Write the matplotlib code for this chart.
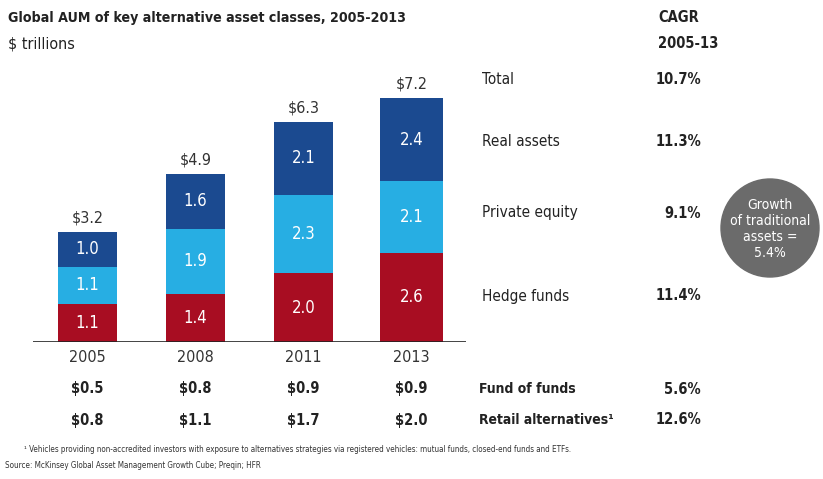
import numpy as np
import matplotlib.pyplot as plt
from matplotlib.patches import Circle

years = ["2005", "2008", "2011", "2013"]
hedge_funds = [1.1, 1.4, 2.0, 2.6]
private_equity = [1.1, 1.9, 2.3, 2.1]
real_assets = [1.0, 1.6, 2.1, 2.4]
totals = ["$3.2", "$4.9", "$6.3", "$7.2"]
fund_of_funds = ["$0.5", "$0.8", "$0.9", "$0.9"]
retail_alts = ["$0.8", "$1.1", "$1.7", "$2.0"]

row_labels = ["Total", "Real assets", "Private equity", "Hedge funds"]
row_cagr = ["10.7%", "11.3%", "9.1%", "11.4%"]
extra_labels = ["Fund of funds", "Retail alternatives\u00b9"]
extra_cagr = ["5.6%", "12.6%"]

W, H = 823, 479
plt.rcParams['font.family'] = ["DejaVu Sans"]
plt.rcParams['font.stretch'] = "condensed"

fig = plt.figure(figsize=(W / 100, H / 100), dpi=100)


def fx(px):
    return px / W


def fy(py):
    return 1 - py / H


# bar axes: baseline at y=342px, 1 unit = 34.3 px, 1 category = 108 px
ax_left, ax_right = 33, 466
ax_bottom, ax_top = 342, 60
ax = fig.add_axes([fx(ax_left), fy(ax_bottom), (ax_right - ax_left) / W, (ax_bottom - ax_top) / H])
ax.set_xlim((ax_left - 87.5) / 108, (ax_right - 87.5) / 108)
ax.set_ylim(0, (ax_bottom - ax_top) / 34.3)
ax.axis("off")
ax.axhline(0, color="#222222", lw=1.2)

x = np.arange(len(years))
widths = [0.55, 0.55, 0.55, 0.59]
red, light, dark = "#a80d22", "#27aee3", "#1b4a90"
txt = "#222222"
hf = np.array(hedge_funds)
pe = np.array(private_equity)
ra = np.array(real_assets)
ax.bar(x, hf, width=widths, color=red)
ax.bar(x, pe, bottom=hf, width=widths, color=light)
ax.bar(x, ra, bottom=hf + pe, width=widths, color=dark)

fs = 11.5
fsb = 10.5
for i in range(len(years)):
    for bottom, val in [(0, hf[i]), (hf[i], pe[i]), (hf[i] + pe[i], ra[i])]:
        ax.text(x[i], bottom + val / 2, f"{val:.1f}", ha="center", va="center",
                color="white", fontsize=fs + 0.5)
    ax.text(x[i], hf[i] + pe[i] + ra[i] + 0.2, totals[i], ha="center", va="bottom",
            color="#333333", fontsize=fs)
    ax.text(x[i], -0.45, years[i], ha="center", va="center", color="#333333", fontsize=fs)
    ax.text(x[i], -1.37, fund_of_funds[i], ha="center", va="center", color=txt,
            fontsize=fsb, fontweight="bold")
    ax.text(x[i], -2.28, retail_alts[i], ha="center", va="center", color=txt,
            fontsize=fsb, fontweight="bold")

# title block
fig.text(fx(8), fy(18), "Global AUM of key alternative asset classes, 2005-2013",
         fontsize=10.2, fontweight="bold", color=txt, va="center")
fig.text(fx(8), fy(44), "$ trillions", fontsize=fs, color=txt, va="center")
fig.text(fx(658), fy(18), "CAGR", fontsize=fsb, fontweight="bold", color=txt, va="center")
fig.text(fx(658), fy(44), "2005-13", fontsize=fsb, fontweight="bold", color=txt, va="center")

# right-hand table
row_y = [80, 141, 213, 296]
for lab, val, yy in zip(row_labels, row_cagr, row_y):
    fig.text(fx(482), fy(yy), lab, fontsize=fs - 0.5, color=txt, va="center")
    fig.text(fx(701), fy(yy), val, fontsize=fsb, fontweight="bold", color=txt,
             va="center", ha="right")

for lab, val, yy in zip(extra_labels, extra_cagr, [389, 420]):
    fig.text(fx(479), fy(yy), lab, fontsize=fsb - 0.5, fontweight="bold", color=txt, va="center")
    fig.text(fx(701), fy(yy), val, fontsize=fsb, fontweight="bold", color=txt,
             va="center", ha="right")

# grey bubble
circ_ax = fig.add_axes([0, 0, 1, 1], zorder=-1)
circ_ax.set_xlim(0, W)
circ_ax.set_ylim(H, 0)
circ_ax.axis("off")
circ_ax.add_patch(Circle((770, 228), 49, color="#6b6b6b"))
circ_ax.text(770, 229, "Growth\nof traditional\nassets =\n5.4%", ha="center", va="center",
             color="white", fontsize=10, linespacing=1.2)

# footnotes
fig.text(fx(24), fy(449), "\u00b9 Vehicles providing non-accredited investors with exposure to alternatives "
         "strategies via registered vehicles: mutual funds, closed-end funds and ETFs.",
         fontsize=5.8, color="#333333", va="center")
fig.text(fx(5), fy(466), "Source: McKinsey Global Asset Management Growth Cube; Preqin; HFR",
         fontsize=5.8, color="#333333", va="center")

fig.savefig("out.png", dpi=100)
